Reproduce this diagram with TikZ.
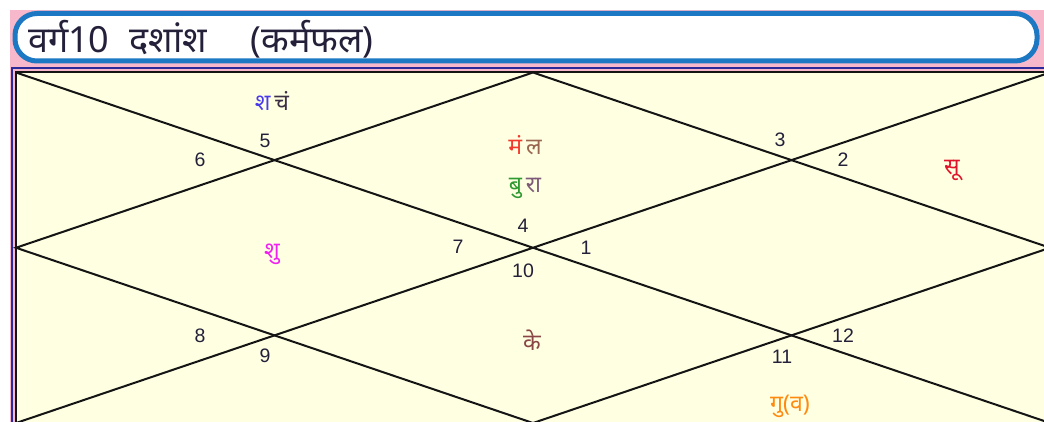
\documentclass[tikz,border=0pt]{standalone}
\usepackage{fontspec}
\setmainfont{Liberation Sans}
\newfontfamily\deva[Script=Devanagari]{Noto Sans}
\usetikzlibrary{positioning}
\definecolor{ink}{HTML}{141414}
\definecolor{numink}{HTML}{24203A}
\definecolor{pinkbg}{HTML}{F7B8CB}
\definecolor{titleblue}{HTML}{1C78C2}
\definecolor{frameblue}{HTML}{2A2A9A}
\definecolor{cream}{HTML}{FFFFE2}
\definecolor{satblue}{HTML}{4A3AEE}
\definecolor{moonink}{HTML}{3C2C44}
\definecolor{marsred}{HTML}{F23A2E}
\definecolor{lagnabrown}{HTML}{9A6650}
\definecolor{mercgreen}{HTML}{2F9A32}
\definecolor{rahuink}{HTML}{7E5A78}
\definecolor{sunred}{HTML}{E0142A}
\definecolor{venusmag}{HTML}{F020F0}
\definecolor{ketubrown}{HTML}{8A4646}
\definecolor{juporange}{HTML}{FF8A10}

\begin{document}
\begin{tikzpicture}[x=1pt,y=-1pt,line width=2pt,every node/.style={inner sep=0pt},num/.style={text=numink,font=\fontsize{19.5}{19.5}\selectfont},graha/.style={font=\deva\fontsize{23}{23}\selectfont}]
\path[use as bounding box] (0,0) rectangle (1044,422);
\clip (0,0) rectangle (1044,422);

\fill[pinkbg] (10,10) rectangle (1044,422);
\draw[titleblue,line width=5pt,fill=white,rounded corners=22pt] (15,13.5) rectangle (1037,61);
\node[anchor=west,text=numink,font=\deva\fontsize{36}{36}\selectfont] (title) at (27,39) {वर्ग10\hspace{20pt}दशांश\hspace{44pt}(कर्मफल)};

% chart frame
\draw[frameblue,line width=2pt] (12,68) rectangle (1060,440);
\draw[ink,fill=cream] (16,72.5) rectangle (1050,424);
\coordinate (nw) at (16,72.5);
\coordinate (ne) at (1050,72.5);
\coordinate (sw) at (16,423);
\coordinate (se) at (1050,423);
\coordinate (n) at (533,72.5);
\coordinate (s) at (533,423);
\coordinate (w) at (16,247.75);
\coordinate (e) at (1050,247.75);
\draw[ink] (nw) -- (se) (sw) -- (ne);
\draw[ink] (n) -- (w) -- (s) -- (e) -- cycle;

% house numbers
\node[num] (h1) at (586,248) {1};
\node[num] (h2) at (843,160) {2};
\node[num] (h3) at (780,140) {3};
\node[num] (h4) at (523,226) {4};
\node[num] (h5) at (265,141) {5};
\node[num] (h6) at (200,160) {6};
\node[num] (h7) at (458,247) {7};
\node[num] (h8) at (200,336) {8};
\node[num] (h9) at (265,356) {9};
\node[num] (h10) at (523,271) {10};
\node[num] (h11) at (782,357) {11};
\node[num] (h12) at (843,336) {12};

% grahas
\node[graha] (satmoon) at (272,101) {\textcolor{satblue}{श}\,\textcolor{moonink}{चं}};
\node[graha] (marslagna) at (525,145) {\textcolor{marsred}{मं}\,\textcolor{lagnabrown}{ल}};
\node[graha] (mercrahu) at (525,188) {\textcolor{mercgreen}{बु}\,\textcolor{rahuink}{रा}};
\node[graha,text=sunred] (sun) at (952,170) {सू};
\node[graha,text=venusmag] (venus) at (272,254) {शु};
\node[graha,text=ketubrown] (ketu) at (532,340) {के};
\node[graha,text=juporange] (jup) at (790,406) {गु(व)};

\end{tikzpicture}
\end{document}
